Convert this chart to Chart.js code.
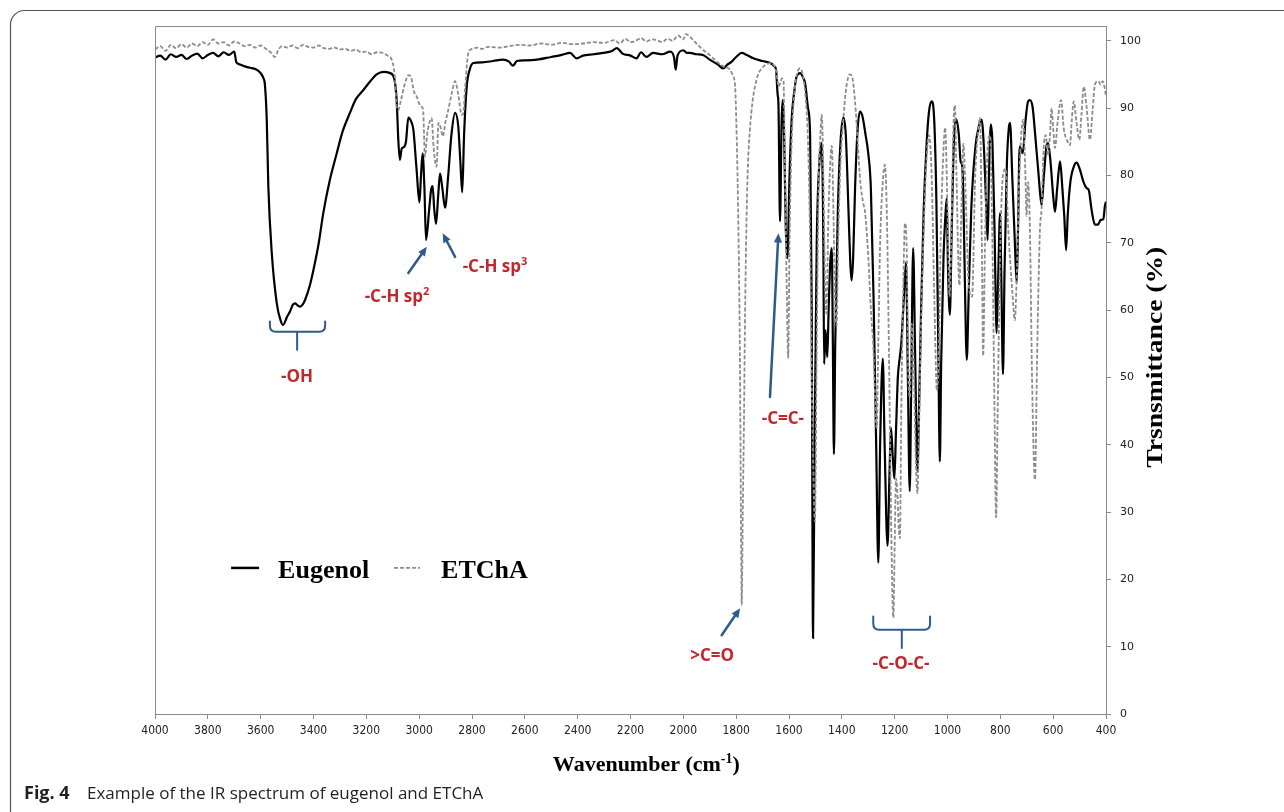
<!DOCTYPE html>
<html>
<head>
<meta charset="utf-8">
<script src="https://cdn.jsdelivr.net/npm/chart.js@4.4.1/dist/chart.umd.min.js"></script>
<style>
  html, body { margin: 0; padding: 0; background: #fff; }
  #wrap { width: 1284px; height: 812px; }
</style>
</head>
<body>
<div id="wrap"><canvas id="irChart" width="1284" height="812"></canvas></div>
<script>
// wavenumbers (cm-1) and transmittance (%)
const eugenolWn = [
  4000,3980,3960,3940,3920,3900,3880,3860,3840,3820,
  3800,3780,3760,3740,3720,3700,3692,3680,3660,3640,
  3620,3600,3590,3584,3577,3571,3558,3539,3525,3515,
  3500,3489,3478,3470,3460,3451,3440,3432,3415,3400,
  3380,3363,3340,3312,3290,3262,3240,3211,3185,3161,
  3135,3110,3095,3085,3079,3073,3066,3058,3050,3041,
  3030,3022,3010,2999,2993,2987,2980,2974,2962,2955,
  2949,2943,2936,2928,2921,2912,2902,2890,2878,2864,
  2852,2844,2837,2830,2820,2808,2795,2760,2720,2683,
  2660,2645,2630,2600,2555,2500,2460,2429,2404,2380,
  2340,2304,2270,2252,2230,2200,2177,2160,2140,2115,
  2080,2050,2035,2029,2022,2000,1987,1975,1950,1926,
  1900,1870,1849,1835,1817,1800,1779,1760,1735,1700,
  1671,1655,1649,1643,1640,1634,1628,1624,1618,1612,
  1606,1598,1590,1580,1571,1558,1545,1539,1528,1520,
  1514,1509,1503,1495,1485,1476,1470,1467,1462,1458,
  1455,1450,1444,1438,1434,1430,1425,1415,1405,1394,
  1385,1375,1368,1363,1357,1350,1340,1331,1322,1310,
  1300,1290,1280,1270,1262,1255,1245,1238,1227,1220,
  1214,1207,1201,1195,1188,1183,1175,1165,1157,1150,
  1143,1137,1130,1122,1114,1108,1100,1090,1080,1070,
  1060,1050,1042,1035,1029,1024,1015,1008,1003,998,
  991,985,977,966,957,950,945,940,935,927,
  920,910,895,880,871,862,855,848,843,836,
  830,822,814,808,801,796,790,784,775,768,
  763,755,745,738,733,727,715,705,695,688,
  678,668,655,644,635,625,619,610,600,593,
  585,574,565,558,551,545,535,520,511,500,
  485,473,465,455,442,430,420,410,404,400
];
const eugenolT = [
  97.5,97.8,97.2,98.0,97.6,97.9,97.3,97.8,98.1,97.4,
  97.9,98.2,97.7,98.3,97.9,98.4,96.8,96.5,96.2,96.0,
  95.8,95.2,94.5,93.5,88.3,78.4,68.5,61.0,58.5,57.8,
  59.0,59.8,60.8,61.0,60.7,60.5,60.9,61.5,63.5,66.0,
  70.0,74.4,79.0,83.3,86.5,89.3,91.3,92.7,94.0,95.0,
  95.4,95.2,94.5,91.0,85.3,82.3,84.0,84.2,85.0,88.6,
  88.0,86.8,81.0,76.0,80.0,83.3,78.0,70.4,75.0,77.8,
  78.4,75.0,72.8,77.0,80.3,78.0,75.2,80.0,86.0,89.3,
  87.3,82.0,77.5,86.0,93.2,95.8,96.7,96.8,97.0,97.2,
  96.9,96.3,97.0,97.1,97.2,97.6,97.9,98.2,97.4,97.8,
  98.0,98.2,98.5,98.9,98.1,97.8,97.4,98.3,97.6,98.2,
  98.0,98.4,97.5,95.7,97.8,98.6,98.2,98.2,98.0,97.9,
  97.2,96.5,95.9,96.4,96.9,97.6,98.2,97.9,97.4,97.0,
  96.7,96.2,95.7,92.0,90.7,73.2,88.0,91.2,85.0,72.0,
  67.7,80.0,88.3,92.5,94.7,95.2,94.4,93.7,90.0,85.8,
  60.0,11.3,40.0,70.0,82.0,84.8,70.0,52.0,57.0,55.0,
  53.0,60.0,67.0,69.2,55.0,38.6,55.0,75.0,85.0,88.6,
  86.0,75.0,67.0,64.4,68.0,78.0,87.0,89.5,88.8,86.0,
  83.3,78.0,62.0,40.0,22.5,40.0,52.8,40.0,25.0,35.0,
  42.5,38.0,35.0,42.0,50.0,52.2,55.0,62.0,67.1,50.0,
  33.1,50.0,69.2,52.0,36.0,45.0,60.0,75.0,84.0,89.5,
  91.0,88.0,76.0,55.0,37.5,52.0,68.0,74.0,76.6,66.0,
  59.3,70.0,84.0,88.3,86.0,82.0,81.6,77.0,66.0,52.6,
  62.0,75.0,84.0,87.5,88.3,84.0,77.0,70.4,80.0,87.6,
  85.0,72.0,56.6,65.0,74.4,64.0,50.5,66.0,82.0,87.0,
  87.8,80.0,70.0,64.0,72.0,84.3,83.3,88.0,91.0,91.2,
  90.2,86.0,80.0,75.6,80.0,84.4,84.8,82.0,77.0,74.6,
  78.0,82.1,78.0,74.0,68.9,74.0,79.0,81.5,81.9,81.0,
  79.0,78.1,77.8,75.0,72.7,72.7,73.4,73.5,75.5,76.1
];

const etchaWn = [
  4000,3980,3960,3940,3920,3900,3880,3860,3840,3820,
  3800,3780,3760,3740,3720,3700,3680,3660,3640,3620,
  3600,3580,3560,3546,3535,3520,3500,3480,3460,3440,
  3420,3400,3380,3360,3340,3320,3300,3280,3260,3240,
  3220,3200,3180,3160,3137,3120,3104,3093,3085,3079,
  3070,3055,3040,3030,3020,3009,2998,2990,2985,2978,
  2970,2960,2953,2945,2934,2927,2918,2911,2900,2890,
  2875,2864,2852,2839,2833,2826,2814,2800,2780,2760,
  2740,2700,2660,2620,2580,2540,2500,2460,2420,2380,
  2340,2300,2260,2240,2220,2200,2180,2160,2140,2120,
  2100,2080,2060,2040,2020,2000,1990,1975,1960,1945,
  1930,1910,1890,1870,1849,1823,1812,1804,1798,1792,
  1786,1782,1779,1775,1770,1767,1760,1755,1748,1738,
  1729,1715,1703,1690,1671,1660,1650,1643,1640,1632,
  1628,1621,1615,1608,1603,1598,1590,1580,1570,1559,
  1548,1538,1528,1520,1512,1502,1495,1488,1480,1476,
  1470,1464,1458,1452,1446,1438,1432,1426,1420,1414,
  1405,1395,1385,1375,1369,1360,1350,1340,1330,1319,
  1312,1300,1290,1281,1268,1262,1255,1245,1237,1230,
  1222,1214,1205,1200,1195,1190,1185,1180,1175,1168,
  1161,1155,1148,1142,1136,1128,1120,1114,1108,1100,
  1090,1080,1070,1060,1050,1040,1034,1025,1015,1009,
  1000,992,985,977,972,966,955,948,940,932,
  920,907,895,880,877,870,865,858,848,839,
  830,822,816,810,800,790,780,770,755,745,
  738,728,714,705,701,695,688,680,669,660,
  650,644,636,628,620,612,606,600,593,583,
  570,560,545,536,530,522,512,501,493,484,
  473,461,450,442,429,420,413,405,400
];
const etchaT = [
  98.7,99.2,98.5,99.4,98.9,99.5,99.0,99.6,99.2,99.8,
  99.4,100.2,99.6,99.8,99.3,99.9,99.6,99.2,99.4,99.0,
  99.3,98.8,98.2,97.6,98.5,99.2,99.0,99.3,98.9,99.4,
  99.1,99.0,99.3,98.9,98.8,99.0,98.7,98.8,98.5,98.7,
  98.3,98.4,98.0,98.3,98.2,97.8,97.2,95.0,90.2,89.7,
  91.0,93.5,94.9,94.5,92.5,91.7,90.5,90.2,89.7,82.8,
  86.0,88.0,88.5,84.0,81.3,87.8,87.0,85.8,88.0,89.7,
  92.5,94.0,92.0,89.0,89.2,93.0,98.2,98.8,99.0,98.8,
  99.1,99.0,99.2,99.4,99.3,99.6,99.4,99.7,99.5,99.6,
  99.8,99.7,100.1,99.6,100.3,99.8,100.0,100.4,99.9,100.2,
  100.1,99.8,100.3,100.0,100.8,100.2,101.0,100.6,100.0,99.4,
  98.8,98.2,97.5,96.8,96.2,95.7,94.8,93.2,85.8,73.4,
  54.0,30.0,16.2,30.0,45.0,57.0,75.0,82.0,86.8,91.0,
  93.2,95.2,95.9,96.4,96.7,96.5,95.7,94.0,93.2,93.8,
  94.4,94.2,80.0,62.0,52.9,70.0,85.0,92.0,95.0,95.9,
  95.0,92.0,85.0,70.0,45.0,28.6,55.0,78.0,87.0,89.0,
  80.0,65.0,59.5,72.0,80.0,84.4,75.0,62.0,57.7,70.0,
  82.0,88.0,92.5,94.7,95.0,94.5,91.0,85.0,79.0,75.9,
  74.5,68.0,60.0,54.7,42.5,55.0,70.0,79.0,81.6,75.0,
  55.0,30.0,14.3,25.0,35.0,33.0,28.0,26.1,45.0,62.0,
  72.9,70.0,50.0,47.0,58.0,52.0,38.0,32.8,42.0,58.0,
  72.0,82.0,86.0,80.0,62.0,48.0,52.0,72.0,84.0,87.1,
  75.0,62.0,72.0,88.0,90.4,80.0,63.7,74.0,84.7,78.0,
  64.0,62.0,80.0,88.0,88.6,70.0,53.2,70.0,84.0,86.0,
  70.0,45.0,29.2,45.0,70.0,80.0,81.0,72.0,63.0,58.5,
  65.0,80.0,88.3,80.0,74.0,79.0,72.0,50.0,34.8,55.0,
  72.0,75.0,84.0,86.0,83.0,86.0,90.0,87.0,84.1,88.0,
  91.2,87.0,85.0,84.5,88.0,91.0,88.0,85.3,89.0,93.2,
  90.0,85.3,90.0,93.5,94.0,93.5,94.0,93.0,91.7
];

const xTickStep = 200;   // 4000 ... 400
const yTickStep = 10;    // 0 ... 100

const RED = '#C0282D';
const BLUE = '#2E5A8E';

const toPoints = (wn, t) => wn.map((w, i) => ({ x: w, y: t[i] }));

function arrow(ctx, x1, y1, x2, y2) {
  const a = Math.atan2(y2 - y1, x2 - x1);
  const hl = 10;
  ctx.beginPath();
  ctx.moveTo(x1, y1);
  ctx.lineTo(x2 - Math.cos(a) * hl * 0.7, y2 - Math.sin(a) * hl * 0.7);
  ctx.stroke();
  ctx.beginPath();
  ctx.moveTo(x2, y2);
  ctx.lineTo(x2 - hl * Math.cos(a - 0.42), y2 - hl * Math.sin(a - 0.42));
  ctx.lineTo(x2 - hl * Math.cos(a + 0.42), y2 - hl * Math.sin(a + 0.42));
  ctx.closePath();
  ctx.fill();
}

function brace(ctx, xl, xr, yTop, yMid, yStem, xc) {
  const r = 6;
  ctx.beginPath();
  ctx.moveTo(xl, yTop);
  ctx.lineTo(xl, yMid - r);
  ctx.quadraticCurveTo(xl, yMid, xl + r, yMid);
  ctx.lineTo(xr - r, yMid);
  ctx.quadraticCurveTo(xr, yMid, xr, yMid - r);
  ctx.lineTo(xr, yTop);
  ctx.moveTo(xc, yMid);
  ctx.lineTo(xc, yStem);
  ctx.stroke();
}

// text with a superscript part, centred at cx
function supText(ctx, base, sup, tail, cx, cy, size, supSize, family) {
  ctx.font = 'bold ' + size + 'px ' + family;
  const w1 = ctx.measureText(base).width;
  const w3 = ctx.measureText(tail).width;
  ctx.font = 'bold ' + supSize + 'px ' + family;
  const w2 = ctx.measureText(sup).width;
  let x = cx - (w1 + w2 + w3) / 2;
  ctx.textAlign = 'left';
  ctx.textBaseline = 'alphabetic';
  ctx.font = 'bold ' + size + 'px ' + family;
  ctx.fillText(base, x, cy);
  x += w1;
  ctx.font = 'bold ' + supSize + 'px ' + family;
  ctx.fillText(sup, x, cy - size * 0.38);
  x += w2;
  ctx.font = 'bold ' + size + 'px ' + family;
  ctx.fillText(tail, x, cy);
}

const decor = {
  id: 'decor',
  afterDraw(chart) {
    const ctx = chart.ctx;
    const xs = chart.scales.x, ys = chart.scales.y;
    const X = v => xs.getPixelForValue(v);
    const Y = v => ys.getPixelForValue(v);
    const ca = chart.chartArea;
    ctx.save();

    // plot frame top and left
    ctx.strokeStyle = '#8a8a8a';
    ctx.lineWidth = 1;
    ctx.beginPath();
    ctx.moveTo(ca.left + 0.5, ca.bottom);
    ctx.lineTo(ca.left + 0.5, ca.top + 0.5);
    ctx.lineTo(ca.right, ca.top + 0.5);
    ctx.stroke();

    // figure border
    ctx.strokeStyle = '#555';
    ctx.lineWidth = 1.2;
    ctx.beginPath();
    ctx.moveTo(10.5, 830);
    ctx.lineTo(10.5, 24);
    ctx.arcTo(10.5, 10.5, 24, 10.5, 14);
    ctx.lineTo(1300, 10.5);
    ctx.stroke();

    // annotations
    const serif = '"Liberation Serif", "Times New Roman", serif';
    const sans = '"Open Sans", "Noto Sans", sans-serif';
    ctx.fillStyle = RED;
    ctx.textAlign = 'center';
    ctx.textBaseline = 'middle';
    ctx.font = 'bold 17px ' + sans;
    ctx.fillText('-OH', X(3462), Y(50.1));
    ctx.fillText('-C=C-', X(1623), Y(43.8));
    ctx.fillText('>C=O', X(1891), Y(8.6));
    ctx.fillText('-C-O-C-', X(1176), Y(7.4));
    supText(ctx, '-C-H sp', '2', '', X(3084), Y(62.1) + 6, 17, 11, sans);
    supText(ctx, '-C-H sp', '3', '', X(2713), Y(66.6) + 6, 17, 11, sans);

    ctx.strokeStyle = BLUE;
    ctx.fillStyle = BLUE;
    ctx.lineWidth = 2.5;
    ctx.lineCap = 'round';
    arrow(ctx, X(3041), Y(65.5), X(2971), Y(69.4));
    arrow(ctx, X(2864), Y(67.9), X(2911), Y(71.4));
    arrow(ctx, X(1672), Y(47.1), X(1640), Y(71.4));
    arrow(ctx, X(1855), Y(11.7), X(1785), Y(15.7));
    ctx.lineWidth = 2;
    brace(ctx, X(3565), X(3356), Y(58.3), Y(56.8), Y(54.1), X(3462));
    brace(ctx, X(1281), X(1066), Y(14.5), Y(12.5), Y(9.8), X(1173));

    // legend
    ctx.lineCap = 'butt';
    ctx.strokeStyle = '#000';
    ctx.lineWidth = 2.5;
    ctx.beginPath();
    ctx.moveTo(X(3712), Y(21.7));
    ctx.lineTo(X(3606), Y(21.7));
    ctx.stroke();
    ctx.strokeStyle = '#8c8c8c';
    ctx.lineWidth = 1.8;
    ctx.setLineDash([4, 2]);
    ctx.beginPath();
    ctx.moveTo(X(3095), Y(21.7));
    ctx.lineTo(X(2997), Y(21.7));
    ctx.stroke();
    ctx.setLineDash([]);
    ctx.fillStyle = '#000';
    ctx.textAlign = 'left';
    ctx.textBaseline = 'middle';
    ctx.font = 'bold 26px ' + serif;
    ctx.fillText('Eugenol', X(3534), Y(21.2));
    ctx.fillText('ETChA', X(2917), Y(21.2));

    // axis titles
    supText(ctx, 'Wavenumber (cm', '-1', ')', X(2140), 771, 22, 14, serif);
    ctx.save();
    ctx.translate(1156, Y(53));
    ctx.rotate(-Math.PI / 2);
    ctx.scale(1.15, 1);
    ctx.textAlign = 'center';
    ctx.textBaseline = 'middle';
    ctx.font = 'bold 24px ' + serif;
    ctx.fillText('Trsnsmittance (%)', 0, 0);
    ctx.restore();

    // caption
    ctx.fillStyle = '#231f20';
    ctx.textAlign = 'left';
    ctx.textBaseline = 'alphabetic';
    ctx.font = 'bold 18px ' + sans;
    ctx.fillText('Fig. 4', 24, 799);
    ctx.font = '17px ' + sans;
    ctx.fillText('Example of the IR spectrum of eugenol and ETChA', 87, 799);

    ctx.restore();
  }
};

new Chart(document.getElementById('irChart').getContext('2d'), {
  type: 'line',
  data: {
    datasets: [
      {
        label: 'ETChA',
        data: toPoints(etchaWn, etchaT),
        borderColor: '#8c8c8c',
        borderWidth: 1.8,
        borderDash: [4, 2],
        pointRadius: 0,
        cubicInterpolationMode: 'monotone',
        order: 0
      },
      {
        label: 'Eugenol',
        data: toPoints(eugenolWn, eugenolT),
        borderColor: '#000',
        borderWidth: 2.2,
        pointRadius: 0,
        cubicInterpolationMode: 'monotone',
        order: 1
      }
    ]
  },
  options: {
    responsive: false,
    animation: false,
    layout: { padding: { left: 155, top: 26, right: 0, bottom: 0 } },
    plugins: {
      legend: { display: false },
      tooltip: { enabled: false }
    },
    scales: {
      x: {
        type: 'linear',
        reverse: true,
        min: 400,
        max: 4000,
        afterFit: s => { s.height = 98; },
        ticks: {
          stepSize: xTickStep,
          autoSkip: false,
          maxRotation: 0,
          padding: 5,
          color: '#222',
          callback: v => String(v),
          font: { family: '"Liberation Sans Narrow", "DejaVu Sans Condensed", sans-serif', size: 12 }
        },
        grid: { drawOnChartArea: false, tickLength: 5, color: '#8a8a8a' },
        border: { color: '#8a8a8a' }
      },
      y: {
        position: 'right',
        min: 0,
        max: 102.2,
        afterFit: s => { s.width = 178; },
        ticks: {
          stepSize: yTickStep,
          includeBounds: false,
          padding: 9,
          color: '#222',
          font: { family: '"DejaVu Sans", Verdana, sans-serif', size: 11 }
        },
        grid: { drawOnChartArea: false, tickLength: 5, color: '#8a8a8a' },
        border: { color: '#8a8a8a' }
      }
    }
  },
  plugins: [decor]
});
</script>
</body>
</html>
